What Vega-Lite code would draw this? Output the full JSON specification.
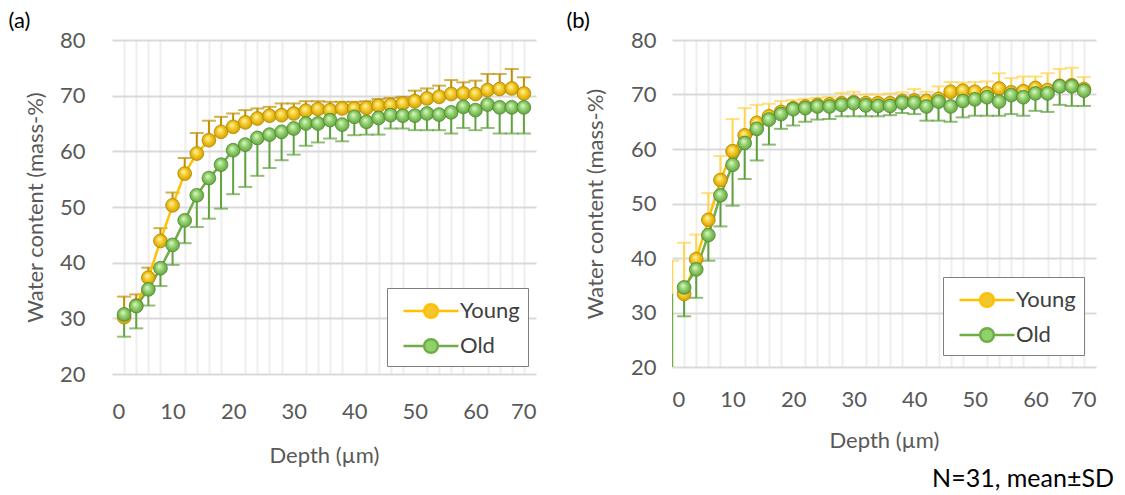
{
"$schema": "https://vega.github.io/schema/vega-lite/v6.json",
"padding": {"left": 8, "top": 10, "right": 2, "bottom": 6},
"config": {
  "font": "Lato",
  "view": {"stroke": null},
  "axis": {"labelFont": "Lato", "labelFontSize": 22, "labelColor": "#595959", "titleFont": "Lato", "titleFontSize": 22, "titleFontWeight": "normal", "titleColor": "#595959", "grid": true, "gridColor": "#D9D9D9", "gridWidth": 2, "domain": false, "ticks": false},
  "legend": {"labelFont": "Lato", "labelFontSize": 22, "labelColor": "#404040", "strokeColor": "#7F7F7F", "fillColor": "white", "padding": 8, "rowPadding": 8, "labelOffset": 14, "symbolOffset": 21, "orient": "bottom-right", "offset": 9}
},
"title": {"text": "N=31, mean±SD", "orient": "bottom", "anchor": "end", "fontSize": 25, "fontWeight": "normal", "color": "#000000", "font": "Lato", "offset": 1, "dx": 18},
"datasets": {
"a": [
{"x":2,"series":"Young","mean":30.2,"bar":33.9},{"x":4,"series":"Young","mean":32.3,"bar":34.3},{"x":6,"series":"Young","mean":37.3,"bar":39.1},{"x":8,"series":"Young","mean":43.9,"bar":46.2},{"x":10,"series":"Young","mean":50.3,"bar":52.6},{"x":12,"series":"Young","mean":56.0,"bar":58.8},{"x":14,"series":"Young","mean":59.6,"bar":63.3},{"x":16,"series":"Young","mean":62.0,"bar":65.5},{"x":18,"series":"Young","mean":63.5,"bar":66.2},{"x":20,"series":"Young","mean":64.4,"bar":66.8},{"x":22,"series":"Young","mean":65.2,"bar":67.4},{"x":24,"series":"Young","mean":65.9,"bar":67.7},{"x":26,"series":"Young","mean":66.4,"bar":68.0},{"x":28,"series":"Young","mean":66.5,"bar":68.6},{"x":30,"series":"Young","mean":66.8,"bar":68.6},{"x":32,"series":"Young","mean":67.3,"bar":69.0},{"x":34,"series":"Young","mean":67.6,"bar":69.0},{"x":36,"series":"Young","mean":67.4,"bar":68.9},{"x":38,"series":"Young","mean":67.7,"bar":68.9},{"x":40,"series":"Young","mean":67.7,"bar":68.9},{"x":42,"series":"Young","mean":67.8,"bar":69.0},{"x":44,"series":"Young","mean":68.2,"bar":69.4},{"x":46,"series":"Young","mean":68.3,"bar":69.6},{"x":48,"series":"Young","mean":68.6,"bar":69.8},{"x":50,"series":"Young","mean":69.0,"bar":70.9},{"x":52,"series":"Young","mean":69.5,"bar":71.3},{"x":54,"series":"Young","mean":69.8,"bar":71.8},{"x":56,"series":"Young","mean":70.3,"bar":72.8},{"x":58,"series":"Young","mean":70.4,"bar":72.4},{"x":60,"series":"Young","mean":70.3,"bar":72.7},{"x":62,"series":"Young","mean":71.0,"bar":73.9},{"x":64,"series":"Young","mean":71.2,"bar":73.9},{"x":66,"series":"Young","mean":71.3,"bar":74.8},{"x":68,"series":"Young","mean":70.4,"bar":73.3},
{"x":2,"series":"Old","mean":30.7,"bar":26.7},{"x":4,"series":"Old","mean":32.2,"bar":28.2},{"x":6,"series":"Old","mean":35.2,"bar":32.3},{"x":8,"series":"Old","mean":39.0,"bar":35.8},{"x":10,"series":"Old","mean":43.2,"bar":39.6},{"x":12,"series":"Old","mean":47.6,"bar":43.5},{"x":14,"series":"Old","mean":52.1,"bar":46.4},{"x":16,"series":"Old","mean":55.2,"bar":47.9},{"x":18,"series":"Old","mean":57.6,"bar":49.7},{"x":20,"series":"Old","mean":60.2,"bar":52.3},{"x":22,"series":"Old","mean":61.2,"bar":53.6},{"x":24,"series":"Old","mean":62.4,"bar":55.6},{"x":26,"series":"Old","mean":63.0,"bar":57.0},{"x":28,"series":"Old","mean":63.5,"bar":58.4},{"x":30,"series":"Old","mean":64.1,"bar":59.4},{"x":32,"series":"Old","mean":65.0,"bar":61.0},{"x":34,"series":"Old","mean":65.0,"bar":61.6},{"x":36,"series":"Old","mean":65.6,"bar":62.3},{"x":38,"series":"Old","mean":64.8,"bar":61.8},{"x":40,"series":"Old","mean":66.2,"bar":62.9},{"x":42,"series":"Old","mean":65.3,"bar":63.0},{"x":44,"series":"Old","mean":66.0,"bar":63.0},{"x":46,"series":"Old","mean":66.5,"bar":64.1},{"x":48,"series":"Old","mean":66.4,"bar":64.1},{"x":50,"series":"Old","mean":66.4,"bar":63.8},{"x":52,"series":"Old","mean":66.8,"bar":63.8},{"x":54,"series":"Old","mean":66.6,"bar":63.8},{"x":56,"series":"Old","mean":67.0,"bar":63.2},{"x":58,"series":"Old","mean":68.0,"bar":64.2},{"x":60,"series":"Old","mean":67.4,"bar":63.8},{"x":62,"series":"Old","mean":68.4,"bar":64.2},{"x":64,"series":"Old","mean":67.9,"bar":63.2},{"x":66,"series":"Old","mean":67.9,"bar":63.2},{"x":68,"series":"Old","mean":67.9,"bar":63.2}
],
"b": [
{"x":2,"series":"Young","mean":33.4,"bar":42.8},{"x":4,"series":"Young","mean":39.8,"bar":44.3},{"x":6,"series":"Young","mean":47.0,"bar":51.9},{"x":8,"series":"Young","mean":54.3,"bar":58.7},{"x":10,"series":"Young","mean":59.6,"bar":65.5},{"x":12,"series":"Young","mean":62.5,"bar":67.5},{"x":14,"series":"Young","mean":64.8,"bar":68.1},{"x":16,"series":"Young","mean":66.0,"bar":68.3},{"x":18,"series":"Young","mean":66.8,"bar":68.8},{"x":20,"series":"Young","mean":67.5,"bar":69.0},{"x":22,"series":"Young","mean":67.8,"bar":69.2},{"x":24,"series":"Young","mean":68.1,"bar":69.4},{"x":26,"series":"Young","mean":68.2,"bar":69.6},{"x":28,"series":"Young","mean":68.4,"bar":70.3},{"x":30,"series":"Young","mean":68.6,"bar":70.5},{"x":32,"series":"Young","mean":68.4,"bar":70.0},{"x":34,"series":"Young","mean":68.4,"bar":70.0},{"x":36,"series":"Young","mean":68.4,"bar":70.2},{"x":38,"series":"Young","mean":68.8,"bar":70.4},{"x":40,"series":"Young","mean":68.9,"bar":71.0},{"x":42,"series":"Young","mean":68.8,"bar":70.5},{"x":44,"series":"Young","mean":69.2,"bar":71.5},{"x":46,"series":"Young","mean":70.5,"bar":72.3},{"x":48,"series":"Young","mean":70.7,"bar":72.2},{"x":50,"series":"Young","mean":70.5,"bar":72.3},{"x":52,"series":"Young","mean":70.2,"bar":72.4},{"x":54,"series":"Young","mean":71.1,"bar":73.9},{"x":56,"series":"Young","mean":70.4,"bar":73.0},{"x":58,"series":"Young","mean":70.6,"bar":73.3},{"x":60,"series":"Young","mean":71.2,"bar":73.3},{"x":62,"series":"Young","mean":70.8,"bar":73.9},{"x":64,"series":"Young","mean":71.6,"bar":74.7},{"x":66,"series":"Young","mean":71.7,"bar":74.9},{"x":68,"series":"Young","mean":71.0,"bar":73.2},
{"x":2,"series":"Old","mean":34.6,"bar":29.3},{"x":4,"series":"Old","mean":37.9,"bar":32.7},{"x":6,"series":"Old","mean":44.2,"bar":39.5},{"x":8,"series":"Old","mean":51.5,"bar":45.8},{"x":10,"series":"Old","mean":57.1,"bar":49.6},{"x":12,"series":"Old","mean":61.1,"bar":54.5},{"x":14,"series":"Old","mean":63.7,"bar":57.9},{"x":16,"series":"Old","mean":65.4,"bar":60.8},{"x":18,"series":"Old","mean":66.4,"bar":63.7},{"x":20,"series":"Old","mean":67.3,"bar":64.3},{"x":22,"series":"Old","mean":67.5,"bar":65.0},{"x":24,"series":"Old","mean":67.8,"bar":65.4},{"x":26,"series":"Old","mean":67.8,"bar":65.5},{"x":28,"series":"Old","mean":68.1,"bar":66.0},{"x":30,"series":"Old","mean":68.4,"bar":66.0},{"x":32,"series":"Old","mean":68.0,"bar":66.0},{"x":34,"series":"Old","mean":67.9,"bar":66.0},{"x":36,"series":"Old","mean":67.9,"bar":66.2},{"x":38,"series":"Old","mean":68.5,"bar":66.6},{"x":40,"series":"Old","mean":68.5,"bar":66.4},{"x":42,"series":"Old","mean":67.8,"bar":65.2},{"x":44,"series":"Old","mean":68.7,"bar":65.2},{"x":46,"series":"Old","mean":67.8,"bar":65.0},{"x":48,"series":"Old","mean":68.8,"bar":65.8},{"x":50,"series":"Old","mean":69.1,"bar":66.1},{"x":52,"series":"Old","mean":69.5,"bar":66.1},{"x":54,"series":"Old","mean":68.7,"bar":66.1},{"x":56,"series":"Old","mean":69.9,"bar":66.4},{"x":58,"series":"Old","mean":69.5,"bar":66.1},{"x":60,"series":"Old","mean":70.2,"bar":67.0},{"x":62,"series":"Old","mean":70.2,"bar":66.8},{"x":64,"series":"Old","mean":71.5,"bar":68.1},{"x":66,"series":"Old","mean":71.5,"bar":67.9},{"x":68,"series":"Old","mean":70.7,"bar":67.9}
],
"b0": [
{"x":0,"series":"Old","mean":33.5,"bar":20},{"x":0,"series":"Young","mean":33.5,"bar":39.5}
]
},
"hconcat": [
{
  "width": 424, "height": 334,
  "title": {"text": "(a)", "anchor": "start", "frame": "bounds", "fontSize": 22, "fontWeight": "normal", "color": "#000000", "font": "Lato", "dx": -16, "offset": -4},
  "data": {"name": "a"},
  "resolve": {"axis": {"x": "independent"}},
  "layer": [
    {"mark": {"type": "rule", "strokeWidth": 2},
     "encoding": {
       "x": {"field": "x", "type": "quantitative", "scale": {"domain": [0, 70], "nice": false, "zero": false, "padding": 0},
             "axis": {"values": [2,4,6,8,12,14,16,18,22,24,26,28,32,34,36,38,42,44,46,48,52,54,56,58,62,64,66,68], "grid": true, "gridColor": "#EEEEEE", "gridWidth": 2, "labels": false, "title": null, "orient": "bottom"}},
       "y": {"field": "mean", "type": "quantitative", "title": "Water content (mass-%)", "scale": {"domain": [20, 80], "nice": false, "zero": false, "padding": 0},
             "axis": {"values": [20,30,40,50,60,70,80], "labelPadding": 27, "titlePadding": 12}},
       "y2": {"field": "bar"},
       "color": {"condition": {"test": "datum.series === 'Young'", "value": "#BF9000"}, "value": "#63A33F"}
     }},
    {"mark": {"type": "tick", "orient": "horizontal", "size": 14, "thickness": 2},
     "encoding": {
       "x": {"field": "x", "type": "quantitative", "axis": null},
       "y": {"field": "bar", "type": "quantitative", "title": "Water content (mass-%)"},
       "color": {"condition": {"test": "datum.series === 'Young'", "value": "#BF9000"}, "value": "#63A33F"}
     }},
    {"mark": {"type": "line", "strokeWidth": 2.5},
     "encoding": {
       "x": {"field": "x", "type": "quantitative", "title": "Depth (µm)",
             "axis": {"values": [0,10,20,30,40,50,60,70], "labelPadding": 27, "titlePadding": 23, "orient": "bottom"}},
       "y": {"field": "mean", "type": "quantitative", "title": "Water content (mass-%)"},
       "color": {"field": "series", "type": "nominal", "scale": {"domain": ["Young", "Old"], "range": ["#FFC000", "#70AD47"]},
                 "legend": {"title": null, "offset": 8, "symbolType": "M-2,0H-0.5M0.5,0H2M0.5,0A0.5,0.5,0,1,1,-0.5,0A0.5,0.5,0,1,1,0.5,0Z", "symbolSize": 756, "symbolStrokeWidth": 2.5,
                            "encode": {"symbols": {"update": {"fill": {"signal": "datum.value === 'Young' ? '#F2C62E' : '#8FD16A'"}, "stroke": {"signal": "datum.value === 'Young' ? '#FFC000' : '#70AD47'"}}}}}}
     }},
    {"transform": [{"filter": "datum.series === 'Young'"}],
     "mark": {"type": "point", "filled": true, "size": 190, "opacity": 1, "strokeWidth": 0.8, "stroke": "#B38900",
              "fill": {"gradient": "radial", "x1": 0.4, "y1": 0.35, "r1": 0, "x2": 0.5, "y2": 0.5, "r2": 0.55, "stops": [{"offset": 0, "color": "#FFF6B0"}, {"offset": 0.45, "color": "#F6CC2A"}, {"offset": 1, "color": "#C99A00"}]}},
     "encoding": {
       "x": {"field": "x", "type": "quantitative", "axis": null},
       "y": {"field": "mean", "type": "quantitative", "title": "Water content (mass-%)"}
     }},
    {"transform": [{"filter": "datum.series === 'Old'"}],
     "mark": {"type": "point", "filled": true, "size": 190, "opacity": 1, "strokeWidth": 0.8, "stroke": "#4F8A31",
              "fill": {"gradient": "radial", "x1": 0.4, "y1": 0.35, "r1": 0, "x2": 0.5, "y2": 0.5, "r2": 0.55, "stops": [{"offset": 0, "color": "#E2F7D2"}, {"offset": 0.45, "color": "#95D46F"}, {"offset": 1, "color": "#5E9A3C"}]}},
     "encoding": {
       "x": {"field": "x", "type": "quantitative", "axis": null},
       "y": {"field": "mean", "type": "quantitative", "title": "Water content (mass-%)"}
     }}
  ]
},
{
  "width": 424, "height": 327,
  "title": {"text": "(b)", "anchor": "start", "frame": "bounds", "fontSize": 22, "fontWeight": "normal", "color": "#000000", "font": "Lato", "dx": -18, "offset": -4},
  "data": {"name": "b"},
  "resolve": {"axis": {"x": "independent"}},
  "layer": [
    {"mark": {"type": "rule", "strokeWidth": 2},
     "encoding": {
       "x": {"field": "x", "type": "quantitative", "scale": {"domain": [0, 70], "nice": false, "zero": false, "padding": 0},
             "axis": {"values": [2,4,6,8,12,14,16,18,22,24,26,28,32,34,36,38,42,44,46,48,52,54,56,58,62,64,66,68], "grid": true, "gridColor": "#EEEEEE", "gridWidth": 2, "labels": false, "title": null, "orient": "bottom"}},
       "y": {"field": "mean", "type": "quantitative", "title": "Water content (mass-%)", "scale": {"domain": [20, 80], "nice": false, "zero": false, "padding": 0},
             "axis": {"values": [20,30,40,50,60,70,80], "labelPadding": 16, "titlePadding": 23}},
       "y2": {"field": "bar"},
       "color": {"condition": {"test": "datum.series === 'Young'", "value": "#FFD34D"}, "value": "#5E9E3C"}
     }},
    {"data": {"name": "b0"},
     "mark": {"type": "rule", "strokeWidth": 2.5, "clip": true},
     "encoding": {
       "x": {"field": "x", "type": "quantitative", "axis": null},
       "y": {"field": "mean", "type": "quantitative", "title": "Water content (mass-%)"},
       "y2": {"field": "bar"},
       "color": {"condition": {"test": "datum.series === 'Young'", "value": "#FFD34D"}, "value": "#70AD47"}
     }},
    {"data": {"name": "b0"},
     "transform": [{"filter": "datum.series === 'Young'"}],
     "mark": {"type": "tick", "orient": "horizontal", "size": 14, "thickness": 2, "clip": true, "color": "#FFD34D"},
     "encoding": {
       "x": {"field": "x", "type": "quantitative", "axis": null},
       "y": {"field": "bar", "type": "quantitative", "title": "Water content (mass-%)"}
     }},
    {"mark": {"type": "tick", "orient": "horizontal", "size": 14, "thickness": 2},
     "encoding": {
       "x": {"field": "x", "type": "quantitative", "axis": null},
       "y": {"field": "bar", "type": "quantitative", "title": "Water content (mass-%)"},
       "color": {"condition": {"test": "datum.series === 'Young'", "value": "#FFD34D"}, "value": "#5E9E3C"}
     }},
    {"mark": {"type": "line", "strokeWidth": 2.5},
     "encoding": {
       "x": {"field": "x", "type": "quantitative", "title": "Depth (µm)",
             "axis": {"values": [0,10,20,30,40,50,60,70], "labelPadding": 22, "titlePadding": 20, "orient": "bottom"}},
       "y": {"field": "mean", "type": "quantitative", "title": "Water content (mass-%)"},
       "color": {"field": "series", "type": "nominal", "scale": {"domain": ["Young", "Old"], "range": ["#FFC000", "#70AD47"]},
                 "legend": {"title": null, "offset": 12, "symbolType": "M-2,0H-0.5M0.5,0H2M0.5,0A0.5,0.5,0,1,1,-0.5,0A0.5,0.5,0,1,1,0.5,0Z", "symbolSize": 756, "symbolStrokeWidth": 2.5,
                            "encode": {"symbols": {"update": {"fill": {"signal": "datum.value === 'Young' ? '#F2C62E' : '#8FD16A'"}, "stroke": {"signal": "datum.value === 'Young' ? '#FFC000' : '#70AD47'"}}}}}}
     }},
    {"transform": [{"filter": "datum.series === 'Young'"}],
     "mark": {"type": "point", "filled": true, "size": 190, "opacity": 1, "strokeWidth": 0.8, "stroke": "#B38900",
              "fill": {"gradient": "radial", "x1": 0.4, "y1": 0.35, "r1": 0, "x2": 0.5, "y2": 0.5, "r2": 0.55, "stops": [{"offset": 0, "color": "#FFF6B0"}, {"offset": 0.45, "color": "#F6CC2A"}, {"offset": 1, "color": "#C99A00"}]}},
     "encoding": {
       "x": {"field": "x", "type": "quantitative", "axis": null},
       "y": {"field": "mean", "type": "quantitative", "title": "Water content (mass-%)"}
     }},
    {"transform": [{"filter": "datum.series === 'Old'"}],
     "mark": {"type": "point", "filled": true, "size": 190, "opacity": 1, "strokeWidth": 0.8, "stroke": "#4F8A31",
              "fill": {"gradient": "radial", "x1": 0.4, "y1": 0.35, "r1": 0, "x2": 0.5, "y2": 0.5, "r2": 0.55, "stops": [{"offset": 0, "color": "#E2F7D2"}, {"offset": 0.45, "color": "#95D46F"}, {"offset": 1, "color": "#5E9A3C"}]}},
     "encoding": {
       "x": {"field": "x", "type": "quantitative", "axis": null},
       "y": {"field": "mean", "type": "quantitative", "title": "Water content (mass-%)"}
     }}
  ]
}
],
"spacing": 30,
"resolve": {"scale": {"color": "independent"}, "legend": {"color": "independent"}}
}
